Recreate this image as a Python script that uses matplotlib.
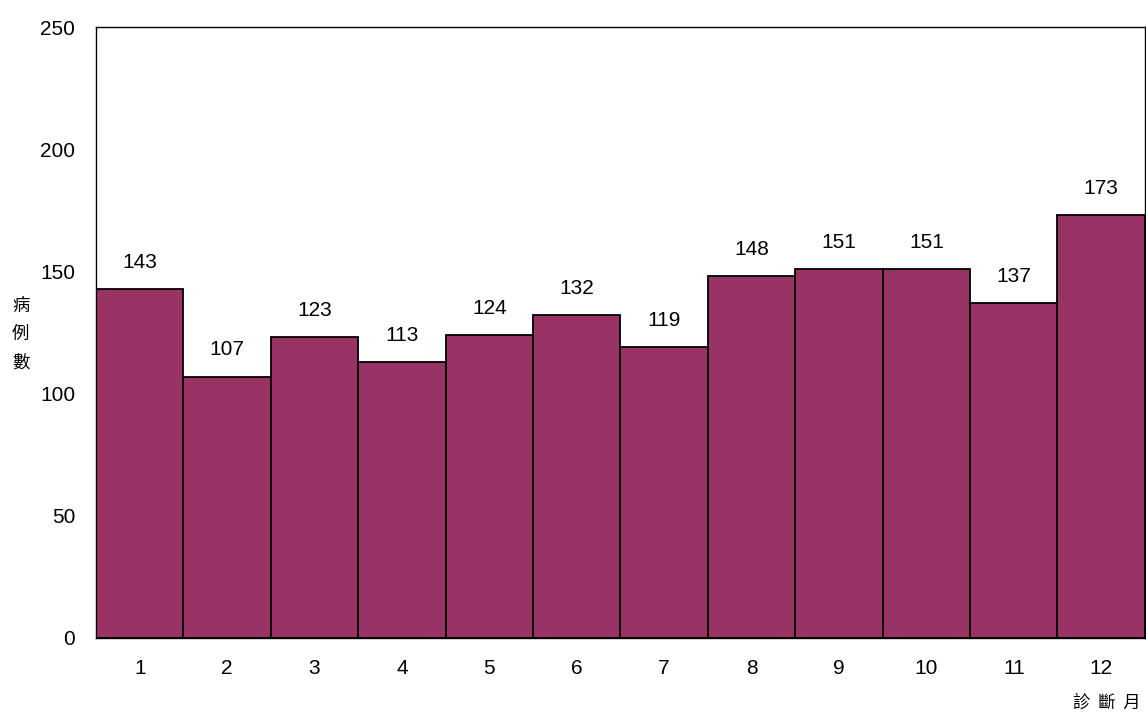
import matplotlib
matplotlib.use("Agg")
import matplotlib.pyplot as plt

# === data ===
months = ["1", "2", "3", "4", "5", "6", "7", "8", "9", "10", "11", "12"]
cases = [143, 107, 123, 113, 124, 132, 119, 148, 151, 151, 137, 173]

BAR_COLOR = "#993366"
CJK = ["Noto Sans CJK TC", "DejaVu Sans"]

plt.rcParams["font.family"] = ["Liberation Sans", "DejaVu Sans"]

fig = plt.figure(figsize=(11.46, 7.16), dpi=100)
ax = fig.add_axes([0.0838, 0.109, 0.9152, 0.853])

x = list(range(len(months)))
ax.bar(x, cases, width=1.0, color=BAR_COLOR, edgecolor="black", linewidth=1.3)

for xi, v in zip(x, cases):
    ax.text(xi, v + 7, str(v), ha="center", va="bottom", fontsize=15)

ax.set_xlim(-0.5, len(months) - 0.5)
ax.set_ylim(0, 250)
ax.set_yticks(range(0, 251, 50))
ax.set_xticks(x)
ax.set_xticklabels(months)
ax.tick_params(length=0, labelsize=15)
ax.tick_params(axis="x", pad=15)
ax.tick_params(axis="y", pad=15)
for s in ax.spines.values():
    s.set_linewidth(1.0)

# stacked y label and spaced x label
fig.text(0.018, 0.533, "病\n例\n數", ha="center", va="center",
         fontsize=12.5, family=CJK, linespacing=1.75)
fig.text(0.9655, 0.018, "診  斷  月", ha="center", va="center",
         fontsize=12.5, family=CJK)

fig.savefig("out.png", dpi=100)
